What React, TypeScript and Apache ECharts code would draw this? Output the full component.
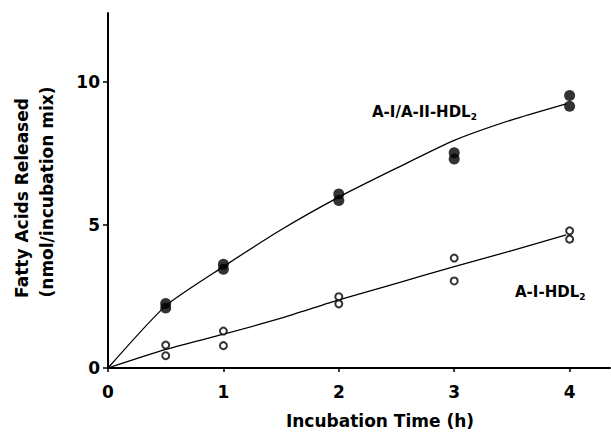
import React, { useEffect, useRef } from "react";
import * as echarts from "echarts";

// Measured points (incubation time, h)
const timeH = [0.5, 1, 2, 3, 4];
const aIaIIHigh = [2.25, 3.62, 6.08, 7.52, 9.52];
const aIaIILow = [2.1, 3.45, 5.85, 7.3, 9.14];
const aIHigh = [0.8, 1.29, 2.49, 3.84, 4.79];
const aILow = [0.43, 0.78, 2.24, 3.04, 4.5];

// Fitted curves
const curveX = [0, 0.5, 1, 1.5, 2, 2.5, 3, 3.5, 3.97];
const aIaIICurve = [0, 2.17, 3.54, 4.83, 5.97, 6.98, 7.95, 8.67, 9.23];
const aICurve = [0, 0.65, 1.18, 1.74, 2.38, 2.96, 3.54, 4.1, 4.65];

const xTicks = [0, 1, 2, 3, 4];
const yTicks = [0, 5, 10];

const FONT = "DejaVu Sans";

const pairs = (xs: number[], ys: number[]) => xs.map((x, i) => [x, ys[i]]);

export default function App() {
  const ref = useRef<HTMLDivElement>(null);
  useEffect(() => {
    if (!ref.current) return;
    const chart = echarts.init(ref.current, undefined, { renderer: "svg" });
    const filled = {
      type: "scatter",
      symbol: "circle",
      symbolSize: 11,
      itemStyle: { color: "#000" },
      z: 5,
    };
    const open = {
      type: "scatter",
      symbol: "circle",
      symbolSize: 7,
      itemStyle: { color: "#fff", borderColor: "#000", borderWidth: 2 },
      z: 5,
    };
    chart.setOption({
      animation: false,
      backgroundColor: "#fff",
      grid: { left: 108, top: 13, right: 1, bottom: 64 },
      xAxis: {
        type: "value",
        min: 0,
        max: 4.35,
        interval: 1,
        splitLine: { show: false },
        axisLine: { lineStyle: { color: "#000", width: 2 } },
        axisTick: { length: 4, lineStyle: { color: "#000", width: 1.5 }, customValues: xTicks },
        axisLabel: {
          customValues: xTicks,
          color: "#000",
          fontFamily: FONT,
          fontWeight: "bold",
          fontSize: 17,
          margin: 15,
        },
      },
      yAxis: {
        type: "value",
        min: 0,
        max: 12.4,
        interval: 5,
        splitLine: { show: false },
        axisLine: { lineStyle: { color: "#000", width: 2 } },
        axisTick: { length: 5, lineStyle: { color: "#000", width: 1.5 }, customValues: yTicks },
        axisLabel: {
          customValues: yTicks,
          color: "#000",
          fontFamily: FONT,
          fontWeight: "bold",
          fontSize: 17,
          margin: 8,
        },
      },
      series: [
        {
          type: "line",
          data: pairs(curveX, aIaIICurve),
          smooth: 0.2,
          showSymbol: false,
          lineStyle: { color: "#000", width: 1.3 },
        },
        {
          type: "line",
          data: pairs(curveX, aICurve),
          smooth: 0.2,
          showSymbol: false,
          lineStyle: { color: "#000", width: 1.3 },
        },
        { ...filled, data: pairs(timeH, aIaIIHigh) },
        { ...filled, data: pairs(timeH, aIaIILow) },
        { ...open, data: pairs(timeH, aIHigh) },
        { ...open, data: pairs(timeH, aILow) },
      ],
      graphic: [
        {
          type: "text",
          x: 380,
          y: 421,
          style: {
            text: "Incubation Time (h)",
            fontFamily: FONT,
            fontWeight: "bold",
            fontSize: 17,
            fill: "#000",
            align: "center",
            verticalAlign: "middle",
          },
        },
        {
          type: "text",
          x: 22,
          y: 198,
          rotation: Math.PI / 2,
          style: {
            text: "Fatty Acids Released",
            fontFamily: FONT,
            fontWeight: "bold",
            fontSize: 17,
            fill: "#000",
            align: "center",
            verticalAlign: "middle",
          },
        },
        {
          type: "text",
          x: 47,
          y: 192,
          rotation: Math.PI / 2,
          style: {
            text: "(nmol/incubation mix)",
            fontFamily: FONT,
            fontWeight: "bold",
            fontSize: 17,
            fill: "#000",
            align: "center",
            verticalAlign: "middle",
          },
        },
        {
          type: "text",
          x: 372,
          y: 112,
          style: {
            text: "{m|A-I/A-II-HDL}{s|2}",
            fill: "#000",
            verticalAlign: "middle",
            rich: {
              m: { fontFamily: FONT, fontWeight: "bold", fontSize: 15, fill: "#000" },
              s: { fontFamily: FONT, fontWeight: "bold", fontSize: 9, fill: "#000", padding: [9, 0, 0, 0] },
            },
          },
        },
        {
          type: "text",
          x: 515,
          y: 292,
          style: {
            text: "{m|A-I-HDL}{s|2}",
            fill: "#000",
            verticalAlign: "middle",
            rich: {
              m: { fontFamily: FONT, fontWeight: "bold", fontSize: 15, fill: "#000" },
              s: { fontFamily: FONT, fontWeight: "bold", fontSize: 9, fill: "#000", padding: [9, 0, 0, 0] },
            },
          },
        },
      ],
    });
    return () => chart.dispose();
  }, []);
  return (
    <div
      ref={ref}
      style={{ position: "fixed", left: 0, top: 0, width: 611, height: 432, background: "#fff" }}
    />
  );
}
